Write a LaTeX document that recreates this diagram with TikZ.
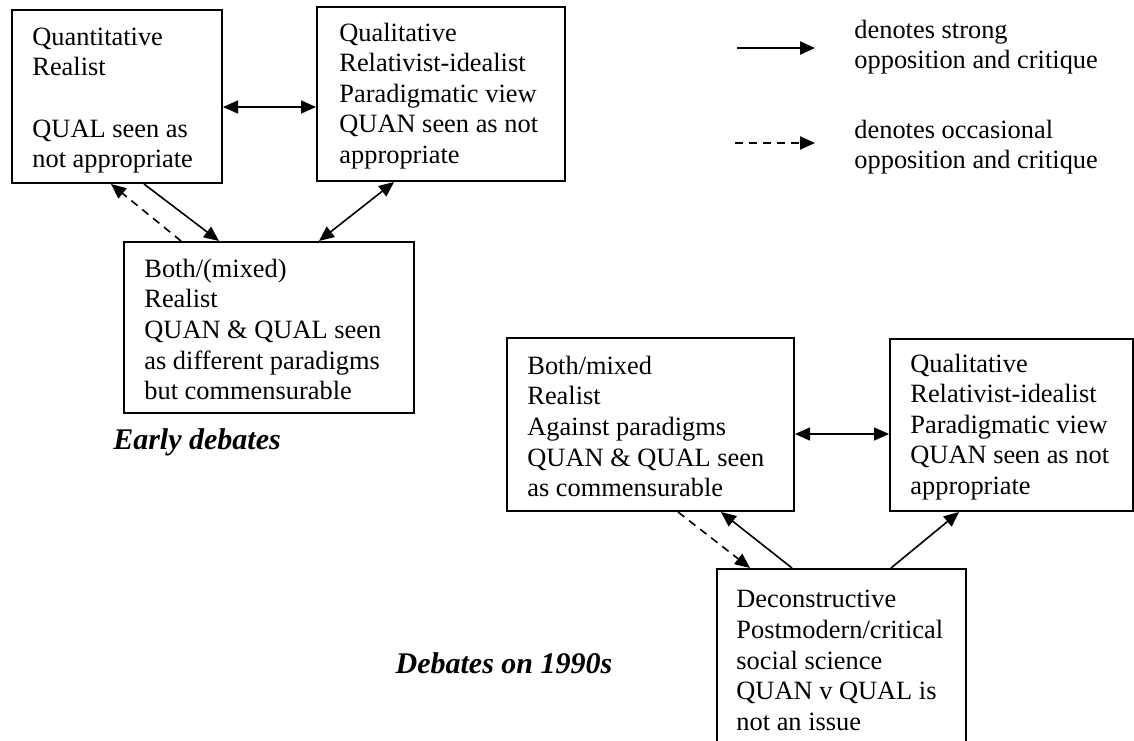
\documentclass[tikz,border=0pt]{standalone}
\usepackage{fontspec}
\setmainfont{Liberation Serif}
\usetikzlibrary{arrows.meta}
\tikzset{
  box/.style={draw, line width=1pt, inner sep=0pt},
  txt/.style={anchor=west, align=left, inner sep=0pt},
  conn/.style={line width=0.8pt, -{Triangle[length=7.5pt,width=6.5pt]}},
  dconn/.style={line width=0.8pt, {Triangle[length=7.5pt,width=6.5pt]}-{Triangle[length=7.5pt,width=6.5pt]}},
  dashconn/.style={conn, dash pattern=on 4pt off 3pt},
  caption/.style={font=\fontsize{15}{17}\selectfont\bfseries\itshape, inner sep=0pt}
}
\begin{document}
\begin{tikzpicture}[x=0.5pt, y=-0.5pt, font=\fontsize{13.2}{15.3}\selectfont]
\useasboundingbox (0,0) rectangle (1134,740);
\clip (0,0) rectangle (1134,740);
% boxes
\node[box, minimum width=105pt, minimum height=86.5pt] (b1) at (117,96.5) {};
\node[box, minimum width=124pt, minimum height=87pt] (b2) at (441,94) {};
\node[box, minimum width=145pt, minimum height=85.5pt] (b3) at (269,327.5) {};
\node[box, minimum width=143.5pt, minimum height=86.5pt] (b4) at (650.5,424.5) {};
\node[box, minimum width=121.5pt, minimum height=86pt] (b5) at (1011.5,425) {};
\node[box, minimum width=124.5pt, minimum height=89.5pt] (b6) at (841.5,658.5) {};
% texts
\node[txt] (t1) at ([xshift=10.5pt,yshift=-2pt]b1.west) {Quantitative\\Realist\\[15.3pt]QUAL seen as\\not appropriate};
\node[txt] (t2) at ([xshift=11.5pt,yshift=-1pt]b2.west) {Qualitative\\Relativist-idealist\\Paradigmatic view\\QUAN seen as not\\appropriate};
\node[txt] (t3) at ([xshift=10.5pt,yshift=-1pt]b3.west) {Both/(mixed)\\Realist\\QUAN \& QUAL seen\\as different paradigms\\but commensurable};
\node[txt] (t4) at ([xshift=10.5pt,yshift=-1pt]b4.west) {Both/mixed\\Realist\\Against paradigms\\QUAN \& QUAL seen\\as commensurable};
\node[txt] (t5) at ([xshift=10.5pt,yshift=-1pt]b5.west) {Qualitative\\Relativist-idealist\\Paradigmatic view\\QUAN seen as not\\appropriate};
\node[txt] (t6) at ([xshift=10pt,yshift=-1pt]b6.west) {Deconstructive\\Postmodern/critical\\social science\\QUAN v QUAL is\\not an issue};
% captions
\node[caption] (c1) at (197,442) {Early debates};
\node[caption] (c2) at (504,663) {Debates on 1990s};
% legend
\coordinate (l1s) at (737,48);
\coordinate (l1e) at (815,48);
\coordinate (l2s) at (735,143);
\coordinate (l2e) at (815,143);
\draw[conn, line width=1.1pt] (l1s) -- (l1e);
\draw[dashconn, line width=1.1pt] (l2s) -- (l2e);
\node[txt] (lt1) at (854,47) {denotes strong\\opposition and critique};
\node[txt] (lt2) at (854,147) {denotes occasional\\opposition and critique};
% connectors (early)
\draw[dconn] ([yshift=-5.25pt]b1.east) -- ([yshift=-6.5pt]b2.west);
\draw[dashconn] ([xshift=29pt]b3.north west) -- ([xshift=50pt]b1.south west);
\draw[conn] ([xshift=66.5pt]b1.south west) -- ([xshift=48pt]b3.north west);
\draw[dconn] ([xshift=39pt]b2.south west) -- ([xshift=98pt]b3.north west);
% connectors (1990s)
\draw[dconn] ([yshift=-4.75pt]b4.east) -- ([yshift=-4.5pt]b5.west);
\draw[dashconn] ([xshift=86pt]b4.south west) -- ([xshift=17pt]b6.north west);
\draw[conn] ([xshift=38pt]b6.north west) -- ([xshift=107.5pt]b4.south west);
\draw[conn] ([xshift=87.5pt]b6.north west) -- ([xshift=35pt]b5.south west);
\end{tikzpicture}
\end{document}
